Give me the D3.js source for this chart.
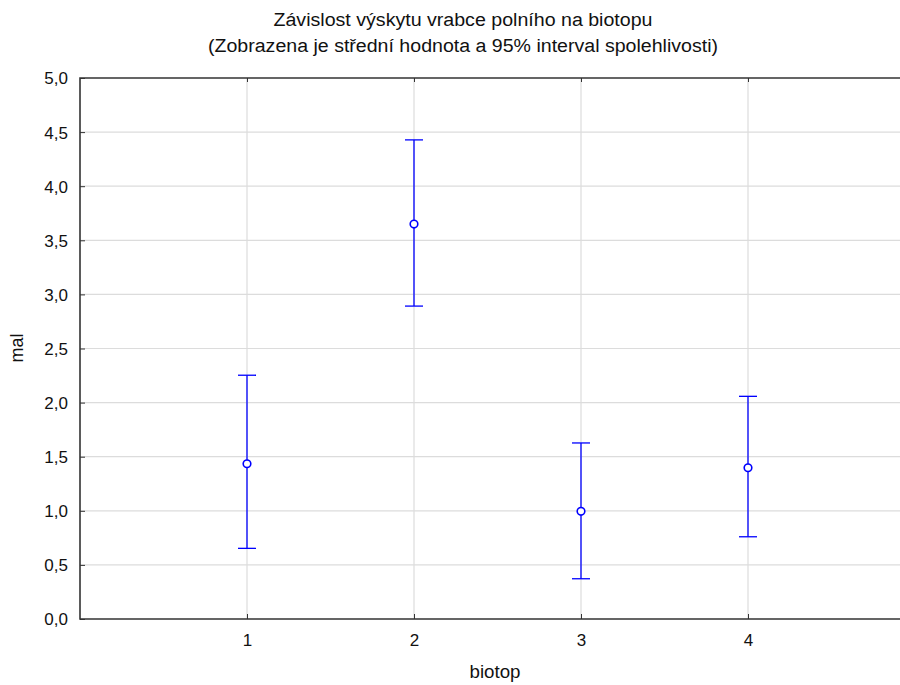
<!DOCTYPE html>
<html><head><meta charset="utf-8">
<script src="https://cdn.jsdelivr.net/npm/d3@7"></script>
<style>
html,body{margin:0;padding:0;background:#fff;}
svg{display:block;font-family:"Liberation Sans",Arial,sans-serif;}
</style></head>
<body>
<svg id="chart" width="900" height="685"></svg>
<script>
const categories = [1, 2, 3, 4];
const means = [1.435, 3.65, 0.995, 1.398];
const upper = [2.253, 4.428, 1.627, 2.058];
const lower = [0.653, 2.892, 0.372, 0.76];
const yTicks = [0, 0.5, 1, 1.5, 2, 2.5, 3, 3.5, 4, 4.5, 5];
const titleLines = ["Závislost výskytu vrabce polního na biotopu", "(Zobrazena je střední hodnota a 95% interval spolehlivosti)"];
const xLabel = "biotop";
const yLabel = "mal";

const svg = d3.select("#chart");
const m = {left: 80, top: 78, right: 915, bottom: 619};
const x = d3.scaleLinear().domain([0, 5]).range([m.left, m.right]);
const y = d3.scaleLinear().domain([0, 5]).range([m.bottom, m.top]);
const fmt = d => d.toFixed(1).replace(".", ",");
const blue = "#0000ff";
const ink = "#111";

// grid
svg.append("g").selectAll("line").data(yTicks.filter(d => d > 0 && d < 5)).join("line")
  .attr("x1", m.left).attr("x2", 900).attr("y1", d => y(d)).attr("y2", d => y(d))
  .attr("stroke", "#dcdcdc").attr("stroke-width", 1.2);
svg.append("g").selectAll("line").data(categories).join("line")
  .attr("x1", d => x(d)).attr("x2", d => x(d)).attr("y1", m.top).attr("y2", m.bottom)
  .attr("stroke", "#dcdcdc").attr("stroke-width", 1.2);

// axes
const yAxis = d3.axisLeft(y).tickValues(yTicks).tickFormat(fmt).tickSizeInner(-5).tickSizeOuter(0).tickPadding(12);
const gy = svg.append("g").attr("transform", `translate(${m.left},0)`).call(yAxis);
gy.select(".domain").remove();
gy.selectAll(".tick line").attr("stroke", "#333");
gy.selectAll("text").attr("font-size", 17).attr("fill", ink)
  .attr("font-family", "Liberation Sans, Arial, sans-serif").attr("dy", "0.35em");

const xAxis = d3.axisBottom(x).tickValues(categories).tickFormat(d3.format("d")).tickSizeInner(-5).tickSizeOuter(0).tickPadding(15);
const gx = svg.append("g").attr("transform", `translate(0,${m.bottom})`).call(xAxis);
gx.select(".domain").remove();
gx.selectAll(".tick line").attr("stroke", "#333");
gx.selectAll("text").attr("font-size", 17).attr("fill", ink)
  .attr("font-family", "Liberation Sans, Arial, sans-serif");

const xTop = d3.axisTop(x).tickValues(categories).tickFormat("").tickSizeInner(-4).tickSizeOuter(0);
const gt = svg.append("g").attr("transform", `translate(0,${m.top})`).call(xTop);
gt.select(".domain").remove();
gt.selectAll(".tick line").attr("stroke", "#333");

// frame lines
svg.append("path")
  .attr("d", `M900,${m.top}H${m.left}V${m.bottom}H900`)
  .attr("fill", "none").attr("stroke", "#333").attr("stroke-width", 1.6);

// error bars
const data = categories.map((c, i) => ({c, mean: means[i], hi: upper[i], lo: lower[i]}));
const g = svg.append("g");
g.selectAll(".v").data(data).join("line")
  .attr("x1", d => x(d.c)).attr("x2", d => x(d.c)).attr("y1", d => y(d.hi)).attr("y2", d => y(d.lo))
  .attr("stroke", blue).attr("stroke-width", 1.3);
g.selectAll(".ct").data(data).join("line")
  .attr("x1", d => x(d.c) - 9).attr("x2", d => x(d.c) + 9).attr("y1", d => y(d.hi)).attr("y2", d => y(d.hi))
  .attr("stroke", blue).attr("stroke-width", 1.3);
g.selectAll(".cb").data(data).join("line")
  .attr("x1", d => x(d.c) - 9).attr("x2", d => x(d.c) + 9).attr("y1", d => y(d.lo)).attr("y2", d => y(d.lo))
  .attr("stroke", blue).attr("stroke-width", 1.3);
g.selectAll("circle").data(data).join("circle")
  .attr("cx", d => x(d.c)).attr("cy", d => y(d.mean)).attr("r", 3.8)
  .attr("fill", "#fff").attr("stroke", blue).attr("stroke-width", 1.6);

// titles
const titleWidths = [379, 510];
svg.append("g").selectAll("text").data(titleLines).join("text")
  .attr("x", 463).attr("y", (d, i) => 26 + i * 26)
  .attr("text-anchor", "middle").attr("font-size", 18).attr("fill", ink)
  .attr("textLength", (d, i) => titleWidths[i]).attr("lengthAdjust", "spacingAndGlyphs")
  .text(d => d);

svg.append("text").attr("x", 495).attr("y", 678).attr("text-anchor", "middle")
  .attr("font-size", 18).attr("fill", ink)
  .attr("textLength", 51).attr("lengthAdjust", "spacingAndGlyphs").text(xLabel);
svg.append("text").attr("transform", "translate(23,348) rotate(-90)").attr("text-anchor", "middle")
  .attr("font-size", 18).attr("fill", ink).text(yLabel);
</script>
</body></html>
